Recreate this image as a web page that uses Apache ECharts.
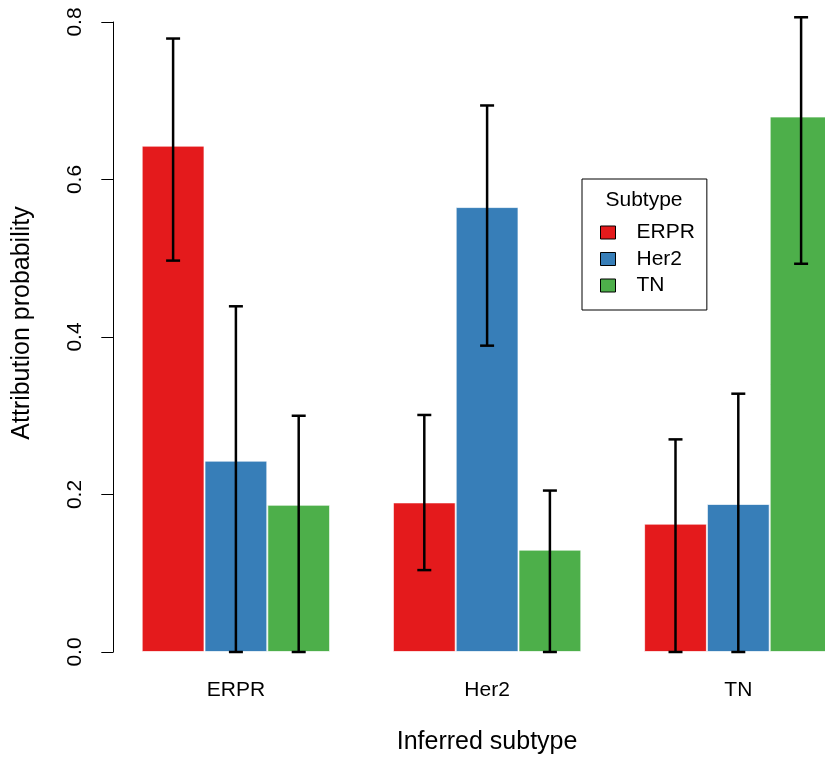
<!DOCTYPE html>
<html>
<head>
<meta charset="utf-8">
<script src="https://cdn.jsdelivr.net/npm/echarts@6/dist/echarts.min.js"></script>
<style>
html,body{margin:0;padding:0;background:#fff;overflow:hidden;width:825px;height:760px;}
#chart{width:880px;height:760px;}
</style>
</head>
<body>
<div id="chart"></div>
<script>
// ---- data ----
var categories = ['ERPR', 'Her2', 'TN'];          // inferred subtype (x groups)
var subtypes = ['ERPR', 'Her2', 'TN'];            // legend series
var erprValues = [0.643, 0.190, 0.163];
var her2Values = [0.243, 0.565, 0.188];
var tnValues   = [0.187, 0.130, 0.680];
var erprLower = [0.497, 0.104, 0.000];
var erprUpper = [0.779, 0.301, 0.270];
var her2Lower = [0.000, 0.389, 0.000];
var her2Upper = [0.439, 0.694, 0.328];
var tnLower   = [0.000, 0.000, 0.493];
var tnUpper   = [0.300, 0.205, 0.806];
var yTicks = [0.0, 0.2, 0.4, 0.6, 0.8];

var colors = ['#E41A1C', '#377EB8', '#4DAF4A'];
var FONT = '"Liberation Sans", Arial, Helvetica, sans-serif';

var seriesValues = [erprValues, her2Values, tnValues];
var lowers = [erprLower, her2Lower, tnLower];
var uppers = [erprUpper, her2Upper, tnUpper];

var errData = [];
for (var s = 0; s < 3; s++) {
  for (var c = 0; c < categories.length; c++) {
    errData.push([c, s, lowers[s][c], uppers[s][c]]);
  }
}

var series = subtypes.map(function (name, i) {
  return {
    name: name,
    type: 'bar',
    data: seriesValues[i],
    barGap: '0%',
    barCategoryGap: '25%',
    itemStyle: { color: colors[i], borderColor: 'rgba(255,255,255,0.7)', borderWidth: 1 },
    emphasis: { disabled: true },
    animation: false
  };
});

series.push({
  type: 'custom',
  z: 5,
  animation: false,
  silent: true,
  clip: false,
  data: errData,
  encode: { x: 0, y: [2, 3] },
  renderItem: function (params, api) {
    var cat = api.value(0);
    var sIdx = api.value(1);
    var band = api.size([1, 0])[0];
    var barW = band / 4;
    var lo = api.coord([cat, api.value(2)]);
    var hi = api.coord([cat, api.value(3)]);
    var x = lo[0] + (sIdx - 1) * barW;
    var half = 7;
    var st = { stroke: '#000', lineWidth: 2.5 };
    return {
      type: 'group',
      children: [
        { type: 'line', shape: { x1: x, y1: lo[1], x2: x, y2: hi[1] }, style: st },
        { type: 'line', shape: { x1: x - half, y1: lo[1], x2: x + half, y2: lo[1] }, style: st },
        { type: 'line', shape: { x1: x - half, y1: hi[1], x2: x + half, y2: hi[1] }, style: st }
      ]
    };
  }
});

var chart = echarts.init(document.getElementById('chart'), null, { renderer: 'canvas' });
chart.setOption({
  backgroundColor: '#fff',
  animation: false,
  textStyle: { fontFamily: FONT },
  grid: { left: 110.3, top: 22, width: 753.6, height: 630, containLabel: false },
  xAxis: {
    type: 'category',
    data: categories,
    axisLine: { show: false },
    axisTick: { show: false },
    axisLabel: { fontSize: 21, color: '#000', margin: 28, fontFamily: FONT },
    name: 'Inferred subtype',
    nameLocation: 'middle',
    nameGap: 78,
    nameTextStyle: { fontSize: 25, color: '#000', fontFamily: FONT }
  },
  yAxis: {
    type: 'value',
    min: 0,
    max: 0.8,
    interval: 0.2,
    offset: -3,
    splitLine: { show: false },
    axisLine: { show: true, lineStyle: { color: '#000', width: 1 } },
    axisTick: { show: true, length: 12, lineStyle: { color: '#000', width: 1 } },
    axisLabel: {
      rotate: 90, fontSize: 21, color: '#000', margin: 27.5, fontFamily: FONT,
      formatter: function (v) {
        for (var k = 0; k < yTicks.length; k++) { if (Math.abs(yTicks[k] - v) < 1e-9) return yTicks[k].toFixed(1); }
        return '';
      }
    },
    name: 'Attribution probability',
    nameLocation: 'middle',
    nameGap: 79,
    nameRotate: 90,
    nameTextStyle: { fontSize: 25, color: '#000', fontFamily: FONT, padding: [0, 0, 0, 28] }
  },
  legend: {
    data: subtypes,
    orient: 'vertical',
    left: 582,
    top: 179,
    padding: [43, 12, 14, 18],
    borderColor: '#000',
    borderWidth: 1,
    itemWidth: 15,
    itemHeight: 13,
    itemGap: 5.5,
    icon: 'rect',
    itemStyle: { borderColor: '#000', borderWidth: 1 },
    selectedMode: false,
    textStyle: { fontSize: 21, color: '#000', fontFamily: FONT, padding: [0, 0, 0, 16] }
  },
  graphic: [{
    type: 'text',
    x: 644,
    y: 200,
    z: 100,
    style: { text: 'Subtype', fontSize: 21, fontFamily: FONT, fill: '#000', align: 'center', verticalAlign: 'middle' }
  }],
  series: series
});
</script>
</body>
</html>
